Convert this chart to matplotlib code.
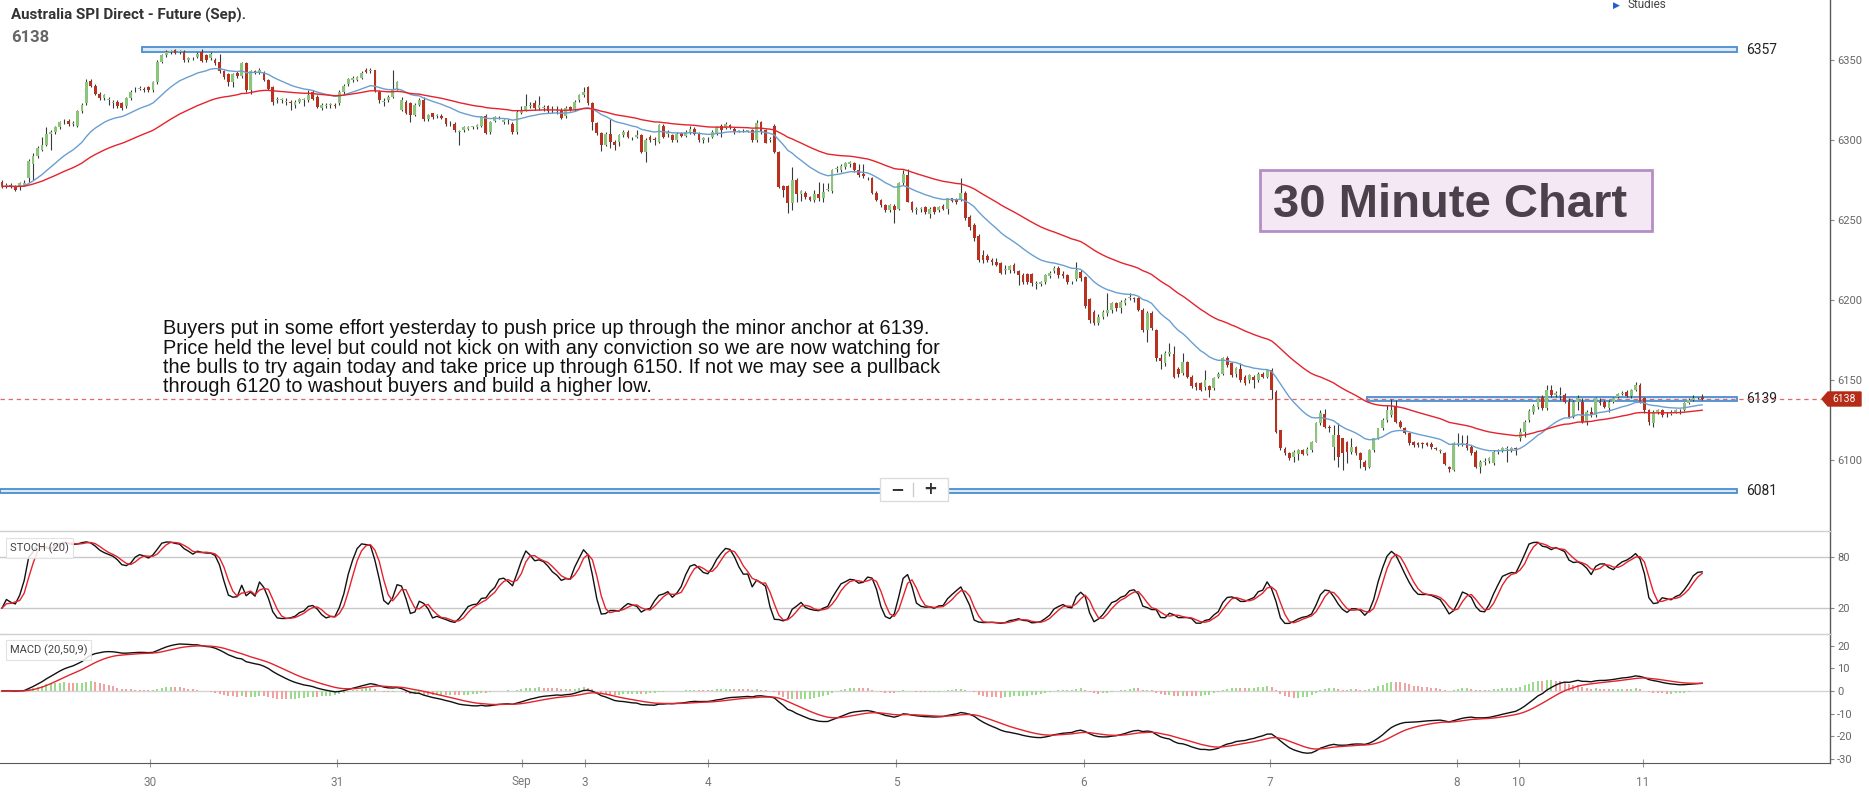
import numpy as np
import pandas as pd
import matplotlib
matplotlib.use("Agg")
import matplotlib.pyplot as plt
from matplotlib.patches import Rectangle, Polygon
from matplotlib.lines import Line2D
import matplotlib.transforms as mtrans

plt.rcParams["axes.unicode_minus"] = False

# ---------------- data (30-minute OHLC) ----------------
opens = [
    6274,6271,6272,6271,6271,6272,6276,6285,6290,6294,
    6297,6304,6305,6308,6311,6312,6310,6309,6318,6323,
    6337,6334,6329,6326,6325,6323,6324,6323,6321,6326,
    6331,6332,6332,6333,6331,6336,6349,6353,6355,6356,
    6355,6355,6350,6351,6352,6355,6353,6351,6350,6349,
    6343,6341,6336,6342,6340,6348,6331,6343,6342,6342,
    6337.5,6333,6325,6325,6324,6323.5,6322,6324,6325,6325,
    6330,6327,6320,6321,6322,6322,6323,6330,6335,6337.5,
    6337.5,6339,6343.5,6343,6343.5,6330,6324,6325,6327,6332,
    6319,6324,6323,6315.6,6322,6325,6313,6316.7,6315,6315,
    6313.5,6310.4,6310,6305,6306,6307,6308,6308,6309,6315,
    6305,6312,6314,
    6311,6311.5,6310,6305,6317,6319,6321.5,6323,6320,6320,
    6321,6318.5,6318,6319,6315,6320.5,6318.5,6325,6328,6333.3,
    6323,6310.4,6304.2,6297,6304,6299,6299,6303,6305,6301.5,
    6302,6303,6292.7,6302,6300.5,6299,6309,6304,6303,6300,
    6304.2,6302.5,6305,6307,6304,6300,6301,6302,6304,6309,
    6307.5,6309.5,6307,6305.5,6306,6305.5,6306,6300,6311,6306,
    6300,6309,6292.7,6271,6271,6260.4,6275,6266,6267,6264.6,
    6262.5,6266,6263.5,6269,6268,6282,6281,6283,6285,6285.4,
    6281,6279,6276.5,6276.5,6267,6262.5,6259.4,6256.25,6259,6257,
    6273,
    6278,6261.5,6256.5,6257,6258,6254,6258,6256,6259,6257,
    6263.5,6263,6263,6266.7,6252,6247,6240,6228,6227.5,6225,
    6224,6223,6219,6218.5,6222,6218.4,6215.6,6216,6216,6210,
    6210,6211,6215,6218,6219.8,6216.5,6215.6,6211,6213,6217.5,
    6214.6,6200.4,6192.7,6185.4,6189.6,6191.7,6193.75,6197.9,6195,6198,
    6201,6201,6201,6193.75,6181,6191.7,6181,6164,6160.4,6166,
    6166,6157,6154.2,6161,6152,6148,6147.9,6145.5,6146,6145,
    6152,6153.7,6163.5,6160.4,6153.5,6157,6152,6150,6152,6150,
    6154,6152,6156,6142.7,6118.75,6107,6104.2,6102,6104,6106,
    6104,
    6106,6111.5,6123,6129,6120.5,6108,6115.6,6113.5,6111.5,6105,
    6108.3,6104.2,6099,6095.8,6106,6113.5,6119.8,6125,6128,6133.3,
    6124,6119.8,6116.7,6111.5,6110.8,6110.8,6110.8,6110,6107.5,6105.5,
    6104.2,6095.8,6094,6110,6109.4,6110.4,6108.3,6105,6095.4,6099,
    6099.6,6098,6105,6106,6106.8,6106,6107,6114,6117.7,6125,
    6130,6133.3,6139.6,6132.3,6143.75,6140.6,6140,6140.6,6136.5,6127.1,
    6136.5,6136.5,6124,6130.2,6128.1,6136.5,6136.5,6132.3,6136.5,6139.6,
    6141.25,6142.7,6140,6143.75,6146.9,6138.5,6131.25,6123,6130.2,6131.25,
    6129.2,6128.6,6130,6131,6131.25,6135.4,6137.5,6138.5,6139.5,
]
highs = [
    6275,6273,6273,6272,6274,6275,6288,6292,6296,6302,
    6308,6306,6309,6312,6313,6313,6312,6319,6323,6338,
    6338,6335,6330,6329,6327,6325,6325,6324,6327,6331,
    6333,6334,6333,6334,6337,6350,6354,6356,6356,6357,
    6356,6356,6352,6352,6355,6357,6354,6355,6351,6354,
    6344,6342,6342,6343,6349,6349,6344,6344,6345,6343,
    6338,6334,6327,6326,6326,6325,6325,6326,6326,6331,
    6331,6328,6323,6323,6323,6323,6331,6335,6339,6340,
    6340,6343,6345,6345,6344,6331,6326,6328,6344,6337,
    6327,6325,6324,6323,6326,6327,6316,6317,6316,6316,
    6314,6312,6311,6306,6309,6309,6309,6310,6315,6316,
    6312,6315,6315,
    6313,6313,6311,6319,6321,6328.75,6324,6325,6327.5,6322,
    6322,6321,6321,6320,6321,6321,6325,6329,6333.3,6334,
    6324,6311,6305,6305,6313,6300,6304,6306,6306,6302,
    6306,6304,6301,6303,6302,6310,6310,6306,6304,6305,
    6305,6306,6309,6308,6305,6302,6302,6306,6309,6310,
    6311,6310,6308,6306,6307,6306,6307,6312.5,6312,6307,
    6302,6310,6293,6272,6272,6283.3,6276,6269,6268,6265,
    6269,6274,6273,6273,6282,6284,6285,6286,6287,6286,
    6285,6285,6277,6277,6268,6263,6260,6260,6260,6274,
    6281,
    6282,6262,6258,6258,6259,6258,6259,6259,6260,6264,
    6264,6264,6276,6268,6253,6248,6241,6231,6229,6226,
    6226,6224,6222,6222,6223,6219,6217,6217,6217,6212,
    6212,6216,6218,6221,6221,6218,6216,6212,6224,6219,
    6215,6201,6194,6191,6194,6204.2,6199,6199,6200,6201,
    6204.2,6202,6202,6195,6193,6193,6182,6166,6168,6172.9,
    6171,6158,6166.7,6162,6153,6149,6149,6156,6147,6152,
    6155,6164.6,6165,6161,6158,6160.4,6153,6154,6153,6155,
    6155,6157,6157.5,6143.5,6119,6108,6105,6106,6107,6107,
    6108,
    6112,6124,6131,6132,6122,6122,6123,6114,6112,6113.5,
    6109,6105,6100,6107,6114,6120,6126,6134.4,6138,6137.5,
    6125,6120.5,6117,6112,6111,6111.5,6111.5,6111,6108,6107,
    6105,6096,6111,6116.7,6115.6,6115.6,6109.4,6106,6100,6101,
    6102,6106,6107,6108,6109,6108,6108,6120,6125,6132,
    6135,6139.6,6140.6,6146.9,6146.9,6143,6145.8,6141.7,6138.5,6137.5,
    6140.6,6138.5,6131,6133,6139.6,6138.5,6137.5,6137.5,6139.6,6142,
    6143,6143.75,6144.5,6149,6148,6139.6,6132,6131,6132,6132,
    6130,6131,6132,6132,6136,6138.5,6140.6,6139.6,6141,
]
lows = [
    6270,6270,6270,6268,6269,6271,6274,6275,6289,6293,
    6296,6294,6304,6307,6310,6309,6309,6308,6317,6322,
    6333,6328,6325,6325,6322,6320,6320,6319,6320,6325,
    6330,6331,6330,6330,6330,6335,6348,6352,6354,6354,
    6354,6349,6349,6350,6351,6349,6349,6350,6347,6342,
    6338,6334,6333,6339,6339,6330,6329,6341,6341,6337,
    6331,6322,6323,6323,6322,6319,6320,6323,6321,6324,
    6325,6320,6319,6320,6320,6320,6322,6329,6334,6336,
    6337,6338,6342,6342,6330,6323,6321,6324,6326,6331,
    6318,6316,6311.5,6315,6321,6312,6312,6313,6314,6313,
    6309,6309,6305,6297,6305,6306,6307,6307,6308,6304,
    6304,6311,6313,
    6310,6310,6304,6304,6316,6318,6320,6319,6319,6318,
    6317,6317,6316,6313,6314,6318,6318,6324,6327,6322,
    6306,6303,6293,6296,6295,6294,6296,6302,6301,6300,
    6301,6292,6286.5,6299,6297,6298,6301,6302,6299,6299,
    6302,6302,6304,6303,6299,6298,6299,6301,6303,6302,
    6307,6307,6304,6305,6305,6305,6299,6299,6304,6298,
    6299,6292,6270,6264.6,6254.2,6256,6261,6262,6263,6262,
    6261,6262,6261,6268,6267,6280,6280,6282,6283,6280,
    6277,6276,6275,6266,6262,6258,6255,6255,6248,6256,
    6272,
    6261,6255,6254,6255,6254,6251,6254,6255,6256,6254,
    6261,6260,6262,6250,6243.75,6237,6224,6222.9,6224,6222,
    6221,6216,6216,6217,6217,6209.4,6210,6210,6209,6207,
    6209,6210,6214,6217,6214,6214,6210,6210,6212,6212,
    6195,6185.4,6184.4,6184.4,6188,6190,6192,6193,6191.7,6197,
    6200,6199,6193,6180,6174,6181,6162,6157,6159,6165,
    6151,6152,6153,6151,6145,6143.75,6143,6144,6139.6,6144,
    6151,6153,6158,6152,6152,6149,6146.9,6148,6145,6149,
    6151,6151,6138,6117,6106,6103,6100,6099,6100,6103,
    6103,
    6105,6111,6122,6120,6117.7,6100,6095.8,6093.75,6097.9,6104,
    6103,6095,6094,6095,6105,6113,6119,6124,6127,6123,
    6120,6116,6109.4,6108.3,6108,6107.3,6109,6107,6106,6104.5,
    6097,6092.7,6093,6109,6109,6106,6103,6095,6091.7,6097,
    6098,6097,6104,6105,6099,6105,6103,6112,6114.6,6124,
    6129,6132,6131.5,6131,6139.6,6139.6,6137.5,6135.4,6126,6126,
    6131.25,6122.9,6121.9,6127,6127,6134.4,6132.3,6130.2,6135.4,6138.5,
    6140.6,6139.6,6139,6143,6135.4,6129.2,6121.9,6120.8,6129,6127,
    6127,6128,6129.5,6129,6130.5,6135,6137,6138,6137.5,
]
closes = [
    6271,6272,6271,6269,6273,6273,6287,6290,6295,6297,
    6304,6305,6308,6311,6311.5,6310,6310.5,6318,6322,6336,
    6334,6329,6326,6328,6325,6323,6321,6320,6326,6330,
    6331,6332,6331,6331,6336,6349,6353,6355,6355,6354.5,
    6355,6350,6351,6351,6354,6349.5,6350,6354,6348,6343,
    6339.5,6336,6341,6340,6348,6331,6343,6342.5,6344,6337.5,
    6332,6324,6325,6325,6324,6323,6324,6325.5,6325,6328,
    6325.5,6320.5,6322,6322,6322,6321.5,6330,6334,6338,6338.5,
    6339.5,6342,6342.5,6343.5,6330.5,6325,6324,6327,6331,6336,
    6325,6316.7,6315.6,6322,6325,6313,6315.6,6314.2,6315,6313.5,
    6310,6310.4,6306,6305,6308.3,6308.3,6308,6309.4,6314.6,6304.6,
    6311.5,6314.6,6313.5,
    6312.5,6311,6305,6317.7,6319,6321,6322,6320,6322,6320,
    6318,6318.5,6319,6313.5,6320,6318.5,6324,6328,6330,6323,
    6311.5,6304.2,6297,6304,6299,6297,6303,6305,6302,6301,
    6303,6292.7,6300,6300,6300,6309.4,6302,6304,6300,6304,
    6302.5,6305,6307,6304,6300,6301,6301,6305,6308,6306,
    6310,6308,6305,6305.5,6306,6305.5,6300,6310.4,6305,6298.4,
    6300,6292.7,6270.8,6269,6260.4,6275,6266,6268,6264.6,6262.5,
    6266,6263.5,6267.7,6269.5,6281.25,6282.5,6283.5,6285.4,6286,6281,
    6278,6277.5,6276,6267,6262.5,6259.4,6256.25,6259.4,6256.25,6272.9,
    6279,
    6261.5,6256.25,6256.5,6257,6255,6257,6255,6258,6257,6263.5,
    6262,6261,6266.7,6251,6245.8,6238.5,6225,6225,6225,6223.5,
    6222,6217,6219,6221.3,6218.4,6215.6,6211.5,6211,6210.4,6210,
    6211,6215.6,6217,6219.8,6215.6,6215,6211.5,6211,6219,6213.5,
    6196,6187.5,6185.4,6189.6,6192.7,6194,6197.9,6195,6199,6200,
    6202,6200.5,6193.75,6181,6191.7,6182.3,6163.5,6162,6166.7,6167.7,
    6152,6154,6161,6152,6146,6145.5,6144,6150,6143.75,6151,
    6154,6163.5,6159.4,6153,6157.5,6150,6148,6153,6150,6154,
    6152,6156,6143.75,6117.7,6107.3,6104.2,6101,6105,6106,6104,
    6107,
    6111.5,6122.9,6129.2,6120.8,6120,6115.6,6102,6104.2,6105.2,6108.3,
    6104.2,6100,6095.8,6106.25,6113.5,6119.8,6125,6131.5,6131.5,6124,
    6120.8,6116.7,6110.4,6109.4,6109.4,6110,6109.6,6108,6107,6106.25,
    6097.5,6094.2,6110.4,6110,6110.4,6107.3,6104.4,6095.8,6099,6099.6,
    6101,6105.2,6105.7,6107.3,6106.8,6107.3,6106.8,6117.7,6124,6130.8,
    6133.8,6138.5,6132.3,6143.75,6140.6,6141.7,6140,6136.5,6127.1,6136.5,
    6138.5,6124,6130.2,6128.1,6138.5,6135.4,6133.3,6136.5,6138.5,6141.25,
    6141.7,6140,6143.75,6146.9,6136.5,6131.25,6124,6130.2,6131.25,6128.1,
    6129.2,6130.2,6131.25,6131,6135.4,6137.5,6138.5,6138.8,6138,
]

day_labels = ["30", "31", "Sep", "3", "4", "5", "6", "7", "8", "10", "11"]
day_ticks = [33.3, 75.5, 117.1, 131.3, 159.0, 201.4, 243.7, 285.6, 327.8, 341.7, 369.7]

levels = [6357, 6139, 6081]                     # horizontal anchor levels
level_lo = [6354.8, 6137.0, 6079.6]
level_hi = [6358.2, 6139.3, 6082.0]
level_start = [31.5, 307.5, -0.45]               # bar index where each box starts
level_end = 390.9
last_price = 6138

title = "Australia SPI Direct - Future (Sep)."
comment = [
    "Buyers put in some effort yesterday to push price up through the minor anchor at 6139.",
    "Price held the level but could not kick on with any conviction so we are now watching for",
    "the bulls to try again today and take price up through 6150. If not we may see a pullback",
    "through 6120 to washout buyers and build a higher low.",
]

# ---------------- derived series ----------------
O = np.array(opens, float); Hh = np.array(highs, float)
L = np.array(lows, float); C = np.array(closes, float)
n = len(C)
idx = np.arange(n)
cs = pd.Series(C)
ema20 = cs.ewm(span=20, adjust=False).mean().values
ema50 = cs.ewm(span=50, adjust=False).mean().values
hh = pd.Series(Hh).rolling(20, min_periods=1).max()
ll = pd.Series(L).rolling(20, min_periods=1).min()
raw = 100 * (cs - ll) / (hh - ll).replace(0, np.nan)
raw = raw.fillna(50)
stk = raw.rolling(3, min_periods=1).mean().values
std = pd.Series(stk).rolling(3, min_periods=1).mean().values
macd = ema20 - ema50
signal = pd.Series(macd).ewm(span=9, adjust=False).mean().values
hist = macd - signal

# ---------------- figure layout (pixel based) ----------------
W, H = 1869, 796
fig = plt.figure(figsize=(W / 100, H / 100), dpi=100)
fig.patch.set_facecolor("white")
fx = lambda px: px / W
fy = lambda py: 1 - py / H

RIGHT = 1830
ax = fig.add_axes([0, fy(531), fx(RIGHT), 531 / H])
axs = fig.add_axes([0, fy(634), fx(RIGHT), 103 / H])
axm = fig.add_axes([0, fy(763), fx(RIGHT), 129 / H])

XL = (-0.45, 411.8)
for a in (ax, axs, axm):
    a.set_xlim(*XL)
    a.set_facecolor("none")
    for s in ("left", "top", "bottom"):
        a.spines[s].set_visible(False)
    a.spines["right"].set_color("#5a5a5a")
    a.spines["right"].set_linewidth(1.0)
    a.yaxis.tick_right()
    a.tick_params(axis="y", direction="out", length=3, width=0.8, colors="#888",
                  labelcolor="#666", labelsize=8, pad=2)
for a in (ax, axs):
    a.tick_params(axis="x", bottom=False, labelbottom=False)
for a in (axs, axm):
    a.spines["top"].set_visible(True)
    a.spines["top"].set_color("#cfcfcf")
    a.spines["top"].set_linewidth(1.0)

# ---------------- main price panel ----------------
ax.set_ylim(6055.6, 6387.5)
ax.set_yticks([6100, 6150, 6200, 6250, 6300, 6350])

for lo, hi, st in zip(level_lo, level_hi, level_start):
    ax.add_patch(Rectangle((st, lo), level_end - st, hi - lo, facecolor="#dbe8f6",
                           edgecolor="#4a8fd0", lw=1.3, zorder=2))
lab_tr = mtrans.blended_transform_factory(ax.transAxes, ax.transData)
for lv, lo, hi in zip(levels, level_lo, level_hi):
    ax.text(1746 / RIGHT, (lo + hi) / 2, str(lv), transform=lab_tr, va="center",
            ha="left", fontsize=10, color="#222", family="Roboto")

ax.plot([XL[0], 409.8], [last_price, last_price], color="#e06a6a", lw=0.9,
        dashes=(3.5, 3), zorder=3)

ax.vlines(idx, L, Hh, color="#3a3a3a", lw=0.8, zorder=4)
up = C >= O
bot = np.minimum(O, C)
bh = np.maximum(np.abs(C - O), 0.5)
ax.bar(idx[up], bh[up], bottom=bot[up], width=0.62, color="#8cc47c", edgecolor="none", zorder=5)
ax.bar(idx[~up], bh[~up], bottom=bot[~up], width=0.62, color="#b9321f", edgecolor="none", zorder=5)

ax.plot(idx, ema20, color="#6a9fd0", lw=1.0, zorder=6)
ax.plot(idx, ema50, color="#e5232c", lw=1.0, zorder=6)

# ---------------- stochastic panel ----------------
axs.set_ylim(-10.6, 110.6)
axs.set_yticks([20, 80])
for v in (20, 80):
    axs.axhline(v, color="#c8c8c8", lw=1.0, zorder=1)
axs.plot(idx, stk, color="#111111", lw=1.0, zorder=3)
axs.plot(idx, std, color="#e5232c", lw=1.0, zorder=4)

# ---------------- MACD panel ----------------
axm.set_ylim(-31.9, 25.2)
axm.set_yticks([-30, -20, -10, 0, 10, 20])
axm.axhline(0, color="#d5d5d5", lw=1.0, zorder=1)
hcol = ["#9adb8c" if (i > 0 and hist[i] >= hist[i - 1]) else "#f3a0a0" for i in range(n)]
axm.bar(idx, hist, width=0.45, color=hcol, zorder=2)
axm.plot(idx, macd, color="#111111", lw=1.0, zorder=3)
axm.plot(idx, signal, color="#e5232c", lw=1.0, zorder=4)
axm.spines["bottom"].set_visible(True)
axm.spines["bottom"].set_color("#5a5a5a")
axm.set_xticks(day_ticks)
axm.set_xticklabels(day_labels)
axm.tick_params(axis="x", direction="inout", length=6, width=0.8, colors="#999",
                labelcolor="#777", labelsize=8.5, pad=6)
for a in (ax, axs, axm):
    for t in a.get_yticklabels() + a.get_xticklabels():
        t.set_family("Roboto")

# ---------------- overlay texts & widgets ----------------
fig.text(fx(11), fy(15), title, fontsize=10.9, fontweight="bold", color="#333",
         family="Roboto", va="center", ha="left")
fig.text(fx(11), fy(38), str(last_price), fontsize=12, fontweight="bold", color="#666",
         family="Roboto", va="center", ha="left")
fig.text(fx(1613), fy(5), "\u25B6", fontsize=6.5, color="#1f5fd0", va="center", ha="left",
         family="DejaVu Sans")
fig.text(fx(1627), fy(4), "Studies", fontsize=8.5, color="#444", va="center", ha="left",
         family="Roboto")

for k, line in enumerate(comment):
    fig.text(fx(163), fy(334 + 19.5 * k), line, fontsize=14.35, color="#111",
             family="Liberation Sans", va="baseline", ha="left")

fig.patches.append(Rectangle((fx(1260), fy(231)), fx(1652) - fx(1260), fy(170) - fy(231),
                             transform=fig.transFigure, facecolor="#f4e8f4",
                             edgecolor="#b48ec4", lw=2, zorder=5))
fig.text(fx(1450), fy(217), "30 Minute Chart", fontsize=34, fontweight="bold",
         color="#4b414b", family="Liberation Sans", ha="center", va="baseline", zorder=6)

# zoom control widget over the 6081 line
fig.patches.append(Rectangle((fx(880), fy(501)), fx(948) - fx(880), fy(478) - fy(501),
                             transform=fig.transFigure, facecolor="white",
                             edgecolor="#dcdcdc", lw=1, zorder=5))
fig.lines.append(Line2D([fx(913), fx(913)], [fy(483), fy(496)], transform=fig.transFigure,
                        color="#cccccc", lw=1, zorder=6))
fig.text(fx(897), fy(489), "\u2212", fontsize=12, fontweight="bold", color="#333",
         ha="center", va="center", zorder=7)
fig.text(fx(930), fy(489), "+", fontsize=12, fontweight="bold", color="#333",
         ha="center", va="center", zorder=7)

# last-price tag on the axis
tag = [(fx(1822), fy(399)), (fx(1828), fy(392)), (fx(1861), fy(392)),
       (fx(1861), fy(406)), (fx(1828), fy(406))]
fig.patches.append(Polygon(tag, closed=True, transform=fig.transFigure,
                           facecolor="#b52b17", edgecolor="#b52b17", zorder=8))
fig.text(fx(1844), fy(399), str(last_price), fontsize=7.5, color="white",
         family="Roboto", ha="center", va="center", zorder=9)

# indicator labels
fig.text(fx(10), fy(548), "STOCH (20)", fontsize=8, color="#444", family="Roboto",
         va="center", ha="left",
         bbox=dict(boxstyle="square,pad=0.35", fc="white", ec="#dddddd", lw=0.8, alpha=0.85))
fig.text(fx(10), fy(650), "MACD (20,50,9)", fontsize=8, color="#444", family="Roboto",
         va="center", ha="left",
         bbox=dict(boxstyle="square,pad=0.35", fc="white", ec="#dddddd", lw=0.8, alpha=0.85))

fig.savefig("out.png", dpi=100, facecolor="white")
